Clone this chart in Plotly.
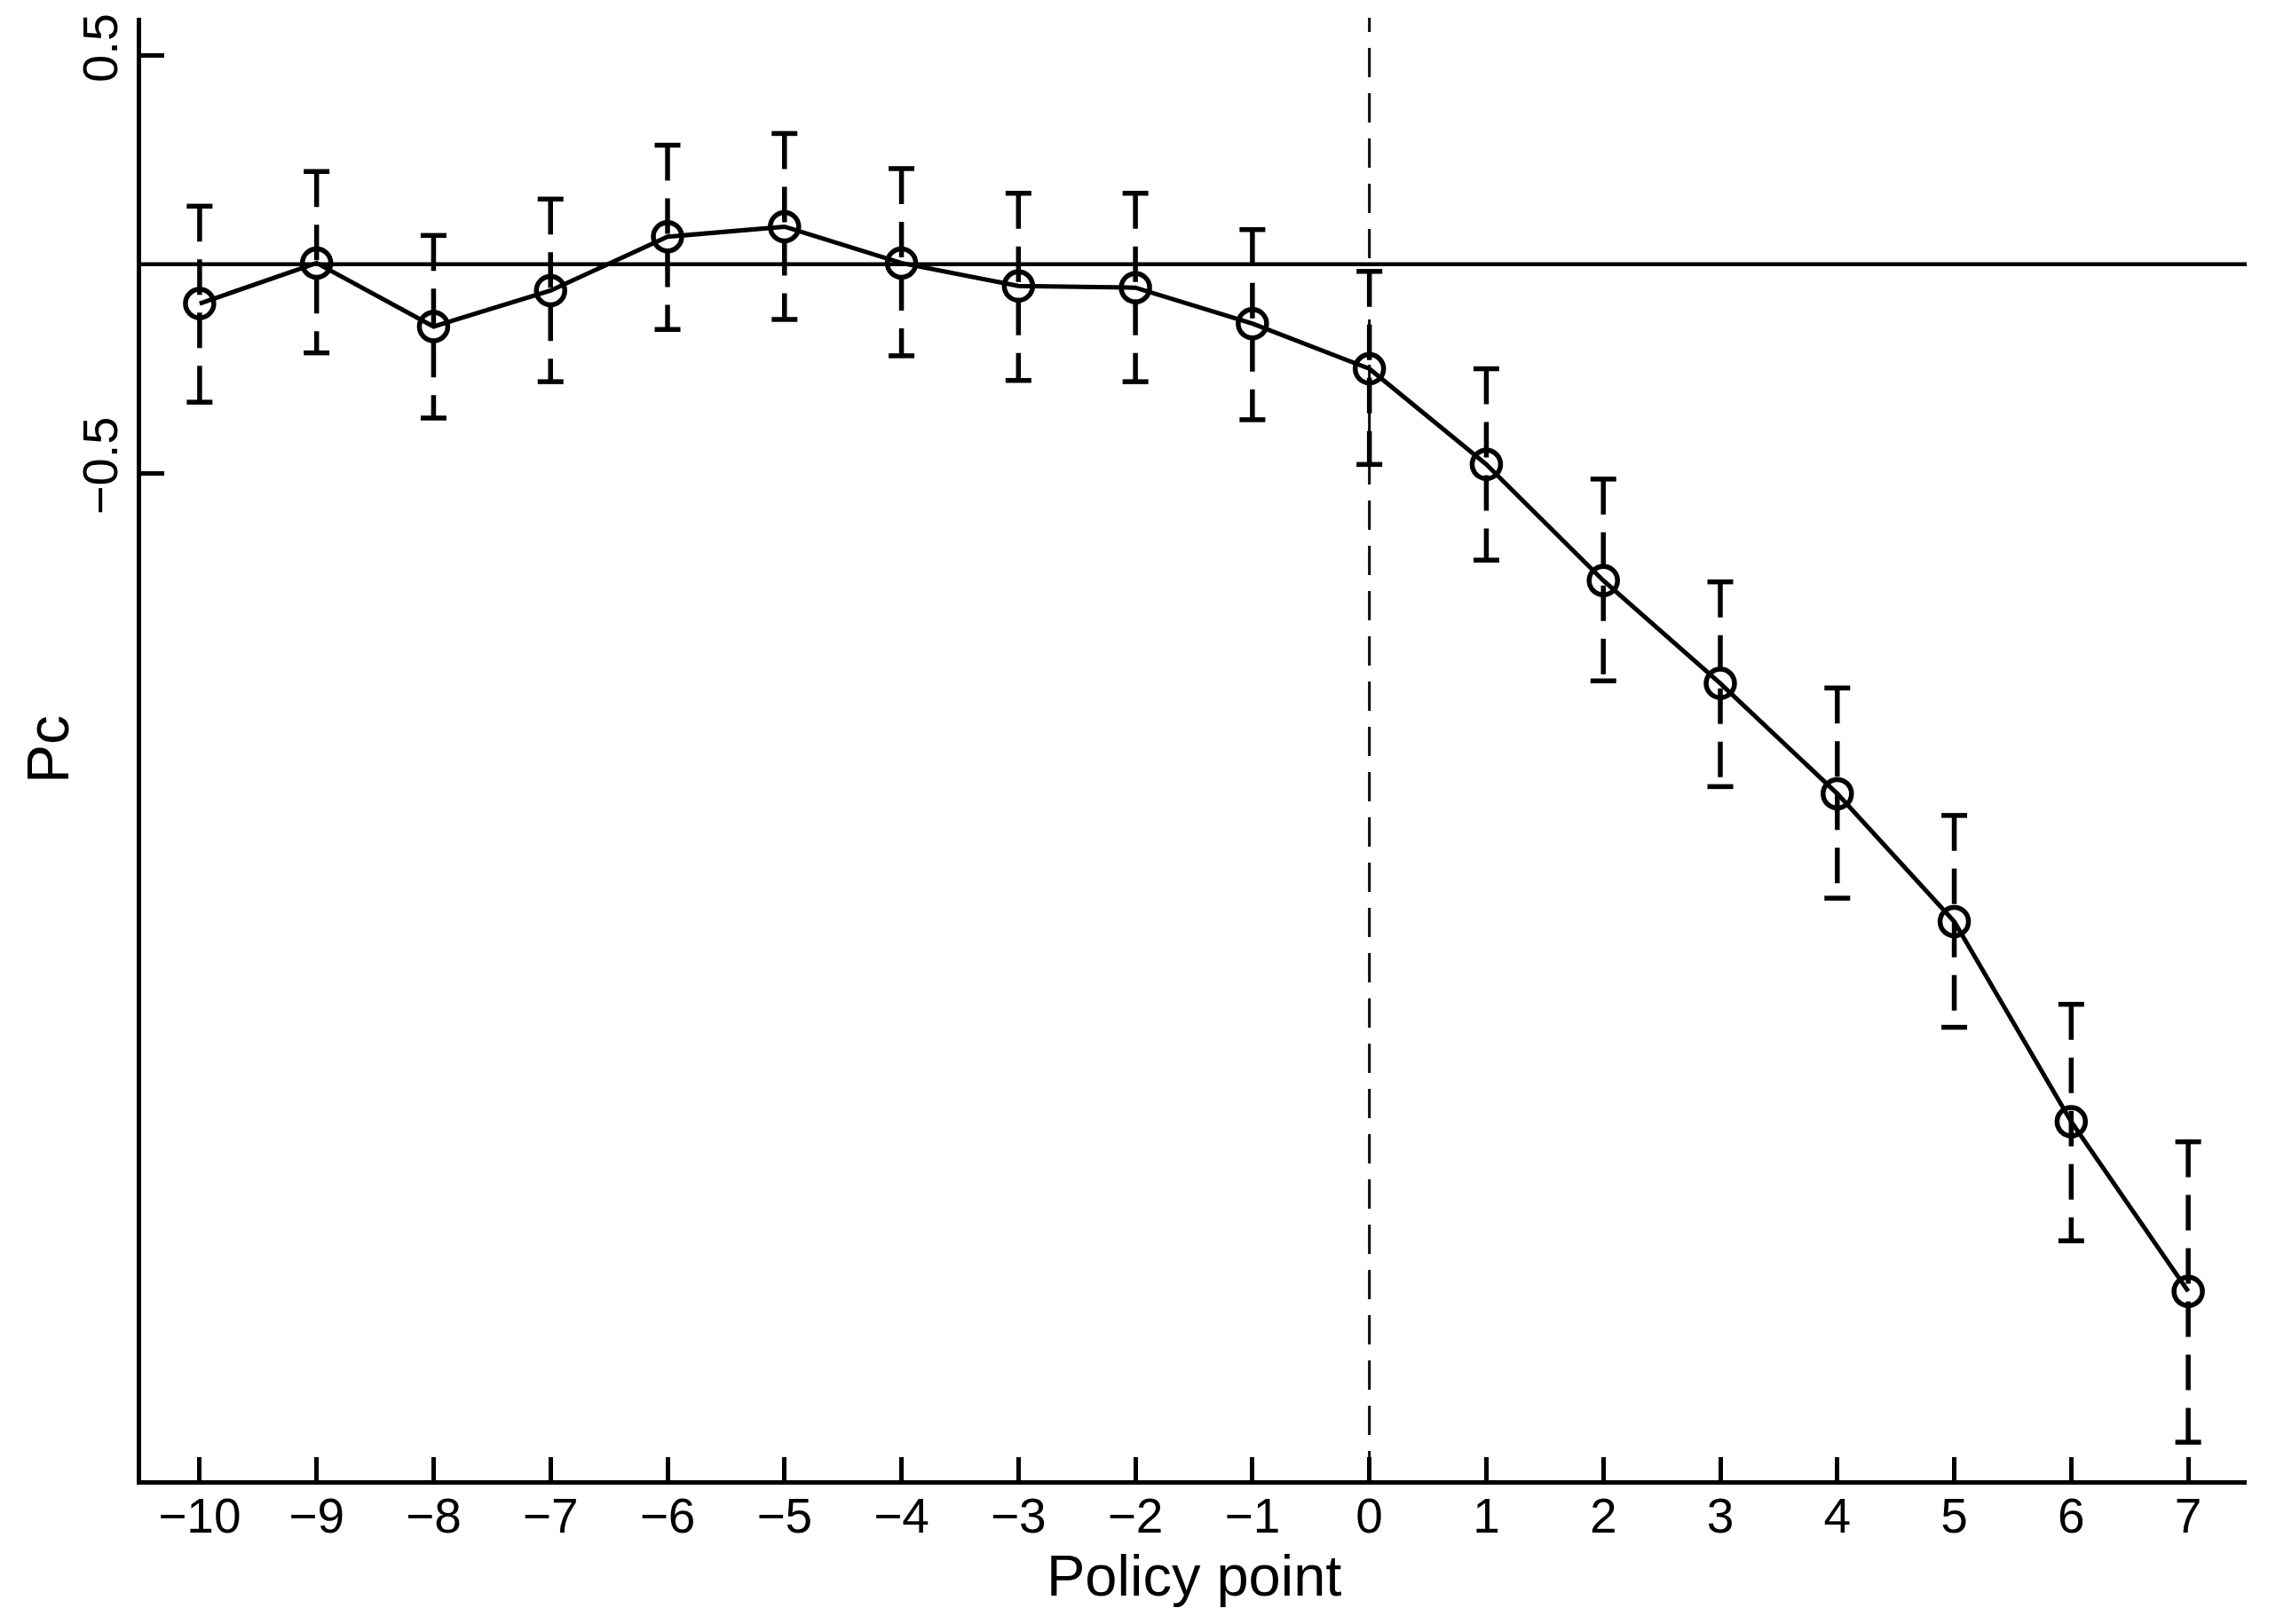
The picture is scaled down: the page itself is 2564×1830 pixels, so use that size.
import plotly.graph_objects as go

# Data
policy_point = [-10, -9, -8, -7, -6, -5, -4, -3, -2, -1, 0, 1, 2, 3, 4, 5, 6, 7]
pc = [-0.094, 0.003, -0.149, -0.063, 0.066, 0.090, 0.003, -0.052, -0.056, -0.142,
      -0.250, -0.479, -0.757, -1.003, -1.267, -1.573, -2.052, -2.458]
ci_upper = [0.139, 0.222, 0.069, 0.156, 0.285, 0.313, 0.229, 0.170, 0.170, 0.083,
            -0.017, -0.250, -0.514, -0.760, -1.014, -1.319, -1.771, -2.100]
ci_lower = [-0.330, -0.212, -0.368, -0.281, -0.156, -0.132, -0.219, -0.278, -0.281, -0.372,
            -0.479, -0.708, -0.997, -1.250, -1.517, -1.826, -2.337, -2.819]
x_tick_vals = policy_point
x_tick_text = [str(v).replace("-", "\u2212") for v in x_tick_vals]
y_tick_vals = [0.5, -0.5]
y_tick_text = ["0.5", "\u22120.5"]
x_title = "Policy point"
y_title = "Pc"

FONT = "Liberation Sans, Arial, sans-serif"
cap_half = 0.11

# dashed error bar stems
ex, ey = [], []
for xi, lo, hi in zip(policy_point, ci_lower, ci_upper):
    ex += [xi, xi, None]
    ey += [hi, lo, None]
# caps
cx, cy = [], []
for xi, lo, hi in zip(policy_point, ci_lower, ci_upper):
    cx += [xi - cap_half, xi + cap_half, None, xi - cap_half, xi + cap_half, None]
    cy += [hi, hi, None, lo, lo, None]

fig = go.Figure()
fig.add_trace(go.Scatter(x=ex, y=ey, mode="lines",
                         line=dict(color="black", width=5.5, dash="40px,20px"),
                         hoverinfo="skip", showlegend=False))
fig.add_trace(go.Scatter(x=cx, y=cy, mode="lines",
                         line=dict(color="black", width=5.5),
                         hoverinfo="skip", showlegend=False))
fig.add_trace(go.Scatter(x=policy_point, y=pc, mode="lines+markers",
                         line=dict(color="black", width=5),
                         marker=dict(symbol="circle-open", size=32, color="black",
                                     line=dict(width=5.5, color="black")),
                         showlegend=False))

fig.add_shape(type="line", xref="paper", x0=0, x1=1, yref="y", y0=0, y1=0,
              line=dict(color="black", width=4.5), layer="below")
fig.add_shape(type="line", xref="x", x0=0, x1=0, yref="paper", y0=0, y1=1,
              line=dict(color="black", width=3, dash="33px,18px"), layer="below")

fig.add_annotation(text=x_title, xref="paper", yref="paper", x=0.5, y=-0.0655,
                   xanchor="center", yanchor="middle", showarrow=False,
                   font=dict(size=65, family=FONT, color="black"))
fig.add_annotation(text=y_title, xref="paper", yref="paper", x=-0.0443, y=0.5,
                   xanchor="center", yanchor="middle", showarrow=False, textangle=-90,
                   font=dict(size=66, family=FONT, color="black"))

# page body has an 8px margin: figure sized/margined so plot area lands at
# x 159..2531, y 20..1668 of the window
fig.update_layout(
    width=2548, height=1814,
    margin=dict(l=151, r=25, t=12, b=154, autoexpand=False),
    paper_bgcolor="white", plot_bgcolor="white",
    font=dict(family=FONT, color="black", size=56),
    xaxis=dict(range=[-10.5, 7.5], tickvals=x_tick_vals, ticktext=x_tick_text,
               showline=True, linewidth=5, linecolor="black",
               ticks="inside", ticklen=26, tickwidth=5, tickcolor="black",
               showgrid=False, zeroline=False, automargin=False,
               ticklabelstandoff=-12,
               tickfont=dict(size=55, family=FONT)),
    yaxis=dict(range=[-2.91, 0.59], tickvals=y_tick_vals, ticktext=y_tick_text,
               showline=True, linewidth=5, linecolor="black",
               ticks="inside", ticklen=26, tickwidth=5, tickcolor="black",
               showgrid=False, zeroline=False, tickangle=-90, automargin=False,
               tickfont=dict(size=56, family=FONT)),
)

fig.write_html("out.html")
